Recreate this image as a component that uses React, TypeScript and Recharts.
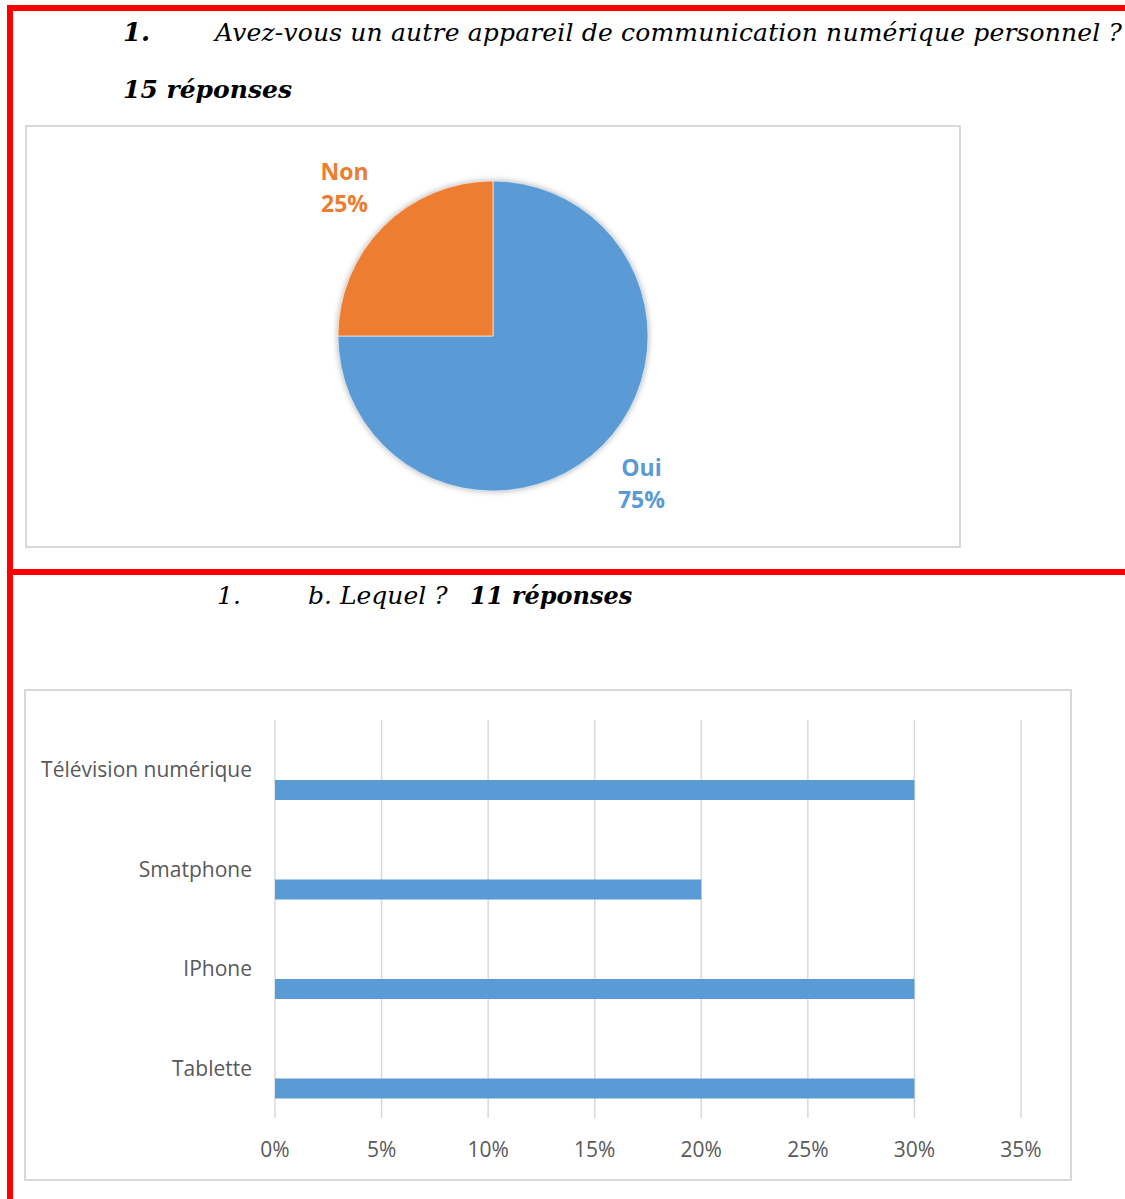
import { BarChart, Bar, XAxis, YAxis, CartesianGrid, PieChart, Pie, Cell } from 'recharts'

// Question 1 : autre appareil ? (15 réponses)
const reponsesLabels = ['Oui', 'Non']
const reponsesPct = [75, 25]
const couleursPie = ['#5B9BD5', '#ED7D31']

// Question 1b : lequel ? (11 réponses)
const appareils = ['Télévision numérique', 'Smatphone', 'IPhone', 'Tablette']
const appareilsPct = [0.3, 0.2, 0.3, 0.3]
// série vide (comme dans le classeur Excel d'origine) qui décale les barres
const serieVide = [null, null, null, null]
const ticksPct = [0, 0.05, 0.1, 0.15, 0.2, 0.25, 0.3, 0.35]

const pieData = reponsesLabels.map((name, i) => ({ name, value: reponsesPct[i] }))
const barData = appareils.map((nom, i) => ({ nom, vide: serieVide[i], valeur: appareilsPct[i] }))

const RADIAN = Math.PI / 180
const RED = '#ff0000'
const BORDER = '2px solid #d9d9d9'
const axisTick = { fill: '#595959', fontSize: 21, fontFamily: '"Open Sans", sans-serif' }

const renderPieLabel = (props: any) => {
  const { cx, cy, midAngle, outerRadius, index, name, percent } = props
  const r = outerRadius + 55
  const x = cx + r * Math.cos(-midAngle * RADIAN)
  const y = cy + r * Math.sin(-midAngle * RADIAN)
  return (
    <text
      x={x}
      y={y}
      fill={couleursPie[index]}
      textAnchor="middle"
      style={{ fontFamily: '"Open Sans", sans-serif', fontWeight: 700, fontSize: 23 }}
    >
      <tspan x={x} y={y - 8}>{name}</tspan>
      <tspan x={x} y={y + 24}>{`${Math.round(percent * 100)}%`}</tspan>
    </text>
  )
}

const serif = { fontFamily: '"DejaVu Serif", serif', fontStyle: 'italic' as const }

export default function App() {
  return (
    <div style={{ position: 'absolute', left: 0, top: 0, width: 1125, height: 1199, background: '#fff', overflow: 'hidden' }}>
      {/* cadres rouges */}
      <div style={{ position: 'absolute', left: 7, top: 5, width: 1118, height: 6, background: RED }} />
      <div style={{ position: 'absolute', left: 7, top: 5, width: 6, height: 1194, background: RED }} />
      <div style={{ position: 'absolute', left: 7, top: 569, width: 1118, height: 6, background: RED }} />

      {/* camembert */}
      <div style={{ position: 'absolute', left: 25, top: 125, width: 936, height: 423, border: BORDER, boxSizing: 'border-box' }} />
      <div style={{ position: 'absolute', left: 26, top: 126 }}>
        <PieChart width={934} height={421}>
          <defs>
            <filter id="ombrePie" x="-20%" y="-20%" width="140%" height="140%">
              <feDropShadow dx="0" dy="0" stdDeviation="3" floodColor="#000" floodOpacity="0.35" />
            </filter>
          </defs>
          <Pie
            data={pieData}
            dataKey="value"
            nameKey="name"
            cx={462}
            cy={205}
            outerRadius={155}
            startAngle={90}
            endAngle={-270}
            stroke="none"
            label={false}
            labelLine={false}
            isAnimationActive={false}
          >
            {pieData.map((_, i) => (
              <Cell key={`o-${i}`} fill={couleursPie[i]} filter="url(#ombrePie)" />
            ))}
          </Pie>
          <Pie
            data={pieData}
            dataKey="value"
            nameKey="name"
            cx={462}
            cy={205}
            outerRadius={155}
            startAngle={90}
            endAngle={-270}
            stroke="#ffffff"
            strokeWidth={0.6}
            label={renderPieLabel}
            labelLine={false}
            isAnimationActive={false}
          >
            {pieData.map((_, i) => (
              <Cell key={`c-${i}`} fill={couleursPie[i]} />
            ))}
          </Pie>
        </PieChart>
      </div>

      {/* barres */}
      <div style={{ position: 'absolute', left: 24, top: 689, width: 1048, height: 492, border: BORDER, boxSizing: 'border-box' }} />
      <div style={{ position: 'absolute', left: 25, top: 690 }}>
        <BarChart
          layout="vertical"
          width={1046}
          height={490}
          data={barData}
          margin={{ top: 30, right: 50, bottom: 0, left: 0 }}
          barGap={20}
        >
          <CartesianGrid horizontal={false} stroke="#d9d9d9" strokeWidth={1.5} />
          <XAxis
            type="number"
            domain={[0, 0.35]}
            ticks={ticksPct}
            tickFormatter={(v: number) => `${Math.round(v * 100)}%`}
            axisLine={false}
            tickLine={false}
            tickSize={0}
            tickMargin={24}
            height={62}
            interval={0}
            tick={axisTick}
          />
          <YAxis
            type="category"
            dataKey="nom"
            width={250}
            axisLine={false}
            tickLine={false}
            tickSize={0}
            tickMargin={23}
            interval={0}
            tick={axisTick}
          />
          <Bar dataKey="vide" fill="#5B9BD5" barSize={20} isAnimationActive={false} />
          <Bar dataKey="valeur" fill="#5B9BD5" barSize={20} isAnimationActive={false} />
        </BarChart>
      </div>

      {/* titres */}
      <svg width={1125} height={1199} style={{ position: 'absolute', left: 0, top: 0, pointerEvents: 'none' }}>
        <text x={123} y={41} style={serif} fontWeight={700} fontSize={26} fill="#000">1.</text>
        <text x={215} y={41} style={serif} fontSize={25} fill="#000" textLength={907} lengthAdjust="spacing">
          Avez-vous un autre appareil de communication numérique personnel ?
        </text>
        <text x={123} y={98} style={serif} fontWeight={700} fontSize={25} fill="#000">15 réponses</text>
        <text x={217} y={604} style={serif} fontSize={25} fill="#000">1.</text>
        <text x={308} y={604} style={serif} fontSize={25} fill="#000">b. Lequel ?</text>
        <text x={470} y={604} style={serif} fontWeight={700} fontSize={24} fill="#000">11 réponses</text>
      </svg>
    </div>
  )
}
